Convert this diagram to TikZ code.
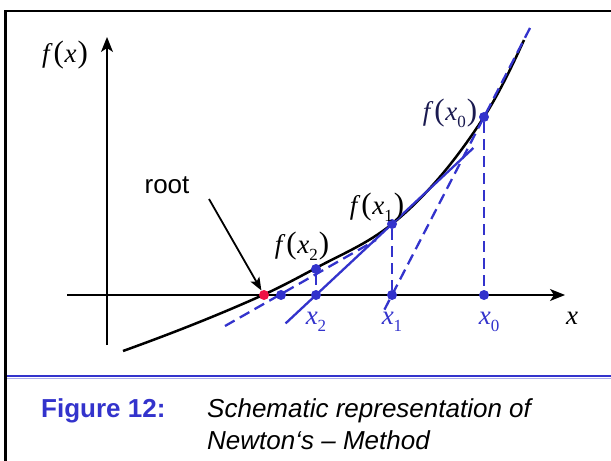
\documentclass[tikz,border=0pt]{standalone}
\usepackage{fontspec}
\setmainfont{Liberation Serif}
\setsansfont{Liberation Sans}
\usetikzlibrary{arrows.meta,calc}
\definecolor{nblue}{HTML}{3333CC}
\definecolor{nred}{HTML}{EE1144}
\definecolor{navy}{HTML}{1A1A50}
\newcommand\mysub[1]{\raisebox{-0.25em}{\fontsize{17bp}{17bp}\selectfont #1}}
\newcommand\fof[1]{\textit{f}\kern1bp{\fontsize{31bp}{31bp}\selectfont(}\kern0.5bp\textit{x}#1\kern1bp{\fontsize{31bp}{31bp}\selectfont)}}
\begin{document}
\begin{tikzpicture}[x=1bp,y=-1bp,
  mathlbl/.style={font=\fontsize{27bp}{30bp}\selectfont, inner sep=0pt},
  sanslbl/.style={font=\sffamily\fontsize{26bp}{32bp}\selectfont, inner sep=0pt},
  dot/.style={circle,fill=nblue,inner sep=0pt,minimum size=10bp},
  rootdot/.style={circle,fill=nred,inner sep=0pt,minimum size=10bp},
  blueline/.style={nblue,line width=2.3bp},
  bdash/.style={blueline,dash pattern=on 11bp off 6bp},
  axisline/.style={line width=1.5bp,-{Stealth[length=15bp,width=12bp,inset=4bp]}},
  curveline/.style={line width=2.5bp}]
\useasboundingbox (0,0) rectangle (611,461);
% frame and separator
\draw[nblue, line width=2bp] (6.5,376) -- (611,376);
\draw[nblue!40, line width=1bp] (6.5,378) -- (611,378);
\draw[line width=2.5bp] (611,11) -- (5.5,11) -- (5.5,461);
% axes
\coordinate (xs) at (67,295);
\coordinate (xe) at (565,295);
\coordinate (ys) at (107,345);
\coordinate (ye) at (107,37);
\draw[axisline] (xs) -- (xe);
\draw[axisline] (ys) -- (ye);
% curve
\draw[curveline] (123,351) .. controls (169.7,334.2) and (216.3,316) .. (263,295)
  .. controls (280.7,287.0) and (298.3,277.5) .. (316,268)
  .. controls (341.3,254.3) and (366.7,244.3) .. (392,224)
  .. controls (422.7,199.5) and (453.3,164.5) .. (484,117)
  .. controls (497.3,96.3) and (510.7,69.3) .. (524,40);
% dots
\node[dot] (f0) at (484,117) {};
\node[dot] (f1) at (392,224) {};
\node[dot] (f2) at (316,269) {};
\node[dot] (a0) at (484,295) {};
\node[dot] (a1) at (392,295) {};
\node[dot] (a2) at (316,295) {};
\node[dot] (a3) at (281,295) {};
% tangents and verticals
\draw[bdash] ($(f0)!-0.5!(a1)$) -- ($(f0)!1.1!(a1)$);
\draw[blueline] ($(f1)!-1.07!(a2)$) -- ($(f1)!1.4!(a2)$);
\coordinate (t2a) at (225,326);
\coordinate (t2b) at (376,240);
\draw[bdash] (t2a) -- (t2b);
\draw[bdash] (f0) -- (a0);
\draw[bdash] (f1) -- (a1);
\draw[bdash] (f2) -- (a2);
\node[rootdot] (r) at (264,295) {};
% labels
\node[mathlbl] (lfx) at (65,55) {\fof{}};
\node[mathlbl, text=navy] (l0) at (450,113) {\fof{\mysub{0}}};
\node[mathlbl] (l1) at (377,207) {\fof{\mysub{1}}};
\node[mathlbl] (l2) at (302,246) {\fof{\mysub{2}}};
\node[mathlbl, text=nblue] (lx2) at (316,322) {\textit{x}\mysub{2}};
\node[mathlbl, text=nblue] (lx1) at (392,322) {\textit{x}\mysub{1}};
\node[mathlbl, text=nblue] (lx0) at (489,322) {\textit{x}\mysub{0}};
\node[mathlbl] (lx) at (572,318) {\textit{x}};
\node[sanslbl] (root) at (167,185) {root};
\coordinate (ra) at (209,199);
\draw[line width=1.8bp,-{Stealth[length=13bp,width=10bp,inset=3bp]}] (ra) -- (r);
% caption
\node[sanslbl, anchor=base west, text=nblue, font=\sffamily\bfseries\fontsize{26bp}{32bp}\selectfont] (fig) at (41,417) {Figure 12:};
\node[sanslbl, anchor=base west, font=\sffamily\itshape\fontsize{26bp}{32bp}\selectfont] (cap1) at (207,417) {Schematic representation of};
\node[sanslbl, anchor=base west, font=\sffamily\itshape\fontsize{26bp}{32bp}\selectfont] (cap2) at (207,449) {Newton‘s – Method};
\end{tikzpicture}
\end{document}
